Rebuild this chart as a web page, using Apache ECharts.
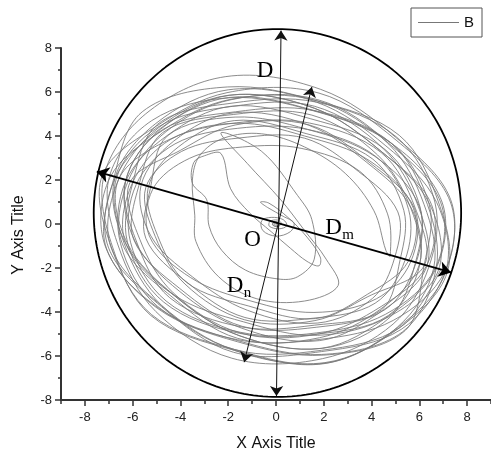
<!DOCTYPE html>
<html><head><meta charset="utf-8">
<script src="https://cdn.jsdelivr.net/npm/echarts@6/dist/echarts.min.js"></script>
<style>html,body{margin:0;padding:0;background:#fff}#c{width:491px;height:457px}</style>
</head><body><div id="c"></div>
<script>
const seriesName = 'B';
const xRange = [-9, 9];
const yRange = [-8, 8];
const xMajorTicks = [-8, -6, -4, -2, 0, 2, 4, 6, 8];
const xMinorTicks = [-9, -7, -5, -3, -1, 1, 3, 5, 7, 9];

// inner part of the trajectory (spiral out of the origin)
const trajCore = [
[0,0],[0.05,0.03],[-0.04,0.05],[-0.06,-0.02],[0.04,-0.06],[0.11,0.02],[0.03,0.09],[-0.12,0.06],[-0.14,-0.05],[0.06,-0.11],[0.16,-0.01],[0.08,0.1],
[0,0],[0.1,0.06],[-0.08,0.1],[-0.12,-0.05],[0.08,-0.12],[0.22,0.03],[0.06,0.18],[-0.25,0.12],[-0.28,-0.1],[0.12,-0.22],[0.45,-0.08],[0.3,0.2],[-0.2,0.3],[-0.6,0.15],[-0.55,-0.3],[0.0,-0.55],[0.6,-0.35],[0.75,0.05],[0.3,0.35],
[-0.35,0.75],[-0.65,1.0],[-0.3,0.95],[0.5,0.3],[1.3,-0.6],[1.85,-1.5],[1.8,-1.9],[1.3,-1.7],[0.6,-1.1],[-0.2,-0.35],
[-1.1,0.5],[-1.9,1.6],[-2.3,3.2],[-3.0,3.1],[-3.44,2.8],[-3.5,1.85],[-2.9,1.1],[-2.8,-0.1],[-2.27,-1.2],[-1.27,-2.1],[0.1,-2.5],[0.9,-2.4],[1.6,-1.6],[1.5,0.2],[0.9,1.3],[-0.6,3.3],[-2.3,4.15],
[-1.2,2.75],[0.2,1.1],[1.2,-0.3],[2.1,-1.6],[2.6,-2.8],[1.2,-3.5],[-0.8,-3.4],[-2.4,-2.4],[-3.35,-0.8],[-3.4,0.4],[-3.5,2.0],[-3.2,3.1],[-2.2,3.9],[-0.6,4.1],[1.2,3.5],[2.9,2.3],[4.1,0.6],[4.6,-1.2]
];

// outer band of the trajectory (loops)
const trajBand = [
[4.78,-1.46],[4.67,0.46],[3.5,2.4],[1.05,3.44],[-1.4,3.5],[-3.61,2.99],[-5.16,1.58],[-5.3,-0.55],[-3.57,-2.44],[-1.05,-3.5],[1.59,-4.02],[4.2,-3.4],
[5.64,-1.72],[5.8,0.7],[3.93,2.78],[1.4,4.5],[-1.71,4.50],[-4.0,3.35],[-6.12,1.87],[-5.7,-0.7],[-4.30,-3.13],[-1.5,-4.95],[1.82,-4.99],[4.4,-3.75],
[6.3,-1.9],[6.51,0.88],[4.4,3.3],[1.61,5.26],[-2.0,5.85],[-4.91,4.38],[-6.6,2.0],[-6.92,-1.02],[-4.8,-3.7],[-1.75,-5.74],[2.05,-6.3],[5.16,-4.72],
[7.17,-2.19],[6.8,1.0],[5.16,4.03],[1.7,5.6],[-2.02,6.23],[-5.6,5.1],[-6.79,2.07],[-7.1,-1.1],[-4.88,-3.85],[-1.6,-5.3],[1.90,-5.93],[5.3,-4.9],
[6.7,-2.05],[6.34,0.88],[4.8,3.7],[1.58,5.16],[-1.7,5.1],[-4.76,4.28],[-6.3,1.95],[-5.85,-0.77],[-4.45,-3.35],[-1.43,-4.68],[1.6,-4.6],[4.41,-3.91],
[5.2,-1.6],[5.35,0.62],[4.05,2.95],[1.26,4.11],[-1.75,4.7],[-4.09,3.50],[-5.35,1.65],[-4.96,-0.52],[-3.75,-2.65],[-1.14,-3.73],[1.65,-4.3],[3.82,-3.20],
[5.54,-1.69],[5.75,0.72],[3.91,2.88],[1.2,4.0],[-1.63,4.58],[-4.4,3.85],[-6.02,1.84],[-6.3,-0.85],[-4.28,-3.22],[-1.35,-4.45],[1.74,-5.06],[4.75,-4.2],
[6.8,-2.1],[6.43,0.91],[4.35,3.35],[1.61,5.26],[-1.95,5.85],[-4.83,4.35],[-6.75,2.05],[-7.02,-1.05],[-4.8,-3.75],[-1.78,-5.83],[1.9,-5.8],[5.24,-4.79],
[7.1,-2.15],[7.31,1.11],[5.0,3.95],[1.87,6.12],[-2.1,6.7],[-5.45,5.01],[-7.2,2.2],[-6.84,-1.05],[-5.25,-4.15],[-1.75,-5.74],[2.0,-6.35],[5.08,-4.69],
[6.60,-2.01],[6.2,0.88],[4.72,3.63],[1.75,5.65],[-1.88,5.65],[-4.6,4.2],[-6.21,1.90],[-6.45,-0.85],[-4.40,-3.27],[-1.6,-5.2],[1.82,-5.17],[4.4,-3.85],
[6.0,-1.85],[5.66,0.73],[3.8,2.8],[1.37,4.49],[-1.8,5.05],[-4.28,3.77],[-5.65,1.75],[-5.24,-0.54],[-3.5,-2.4],[-1.20,-3.92],[1.75,-4.5],[4.04,-3.38],
[4.97,-1.52],[5.1,0.55],[3.45,2.39],[1.2,3.9],[-1.53,3.91],[-3.95,3.3],[-5.45,1.66],[-5.05,-0.58],[-3.81,-2.73],[-1.33,-4.35],[1.63,-4.39],[3.85,-3.3],
[6.2,-1.9],[5.83,0.72],[4.4,3.25],[1.40,4.59],[-1.65,4.6],[-4.43,3.86],[-6.6,2.0],[-6.23,-0.86],[-4.25,-3.25],[-1.55,-5.07],[1.9,-5.65],[4.69,-4.20],
[6.69,-2.04],[6.95,1.0],[4.79,3.70],[1.55,5.15],[-1.91,5.74],[-5.2,4.7],[-6.98,2.13],[-6.6,-1.0],[-5.03,-3.98],[-1.85,-6.1],[1.95,-6.12],[4.9,-4.55],
[6.4,-1.95],[6.65,1.00],[5.05,3.95],[1.69,5.54],[-1.8,5.5],[-4.95,4.54],[-6.0,1.85],[-6.22,-0.82],[-4.7,-3.55],[-1.52,-4.97],[1.75,-5.0],[4.70,-4.16],
[6.02,-1.84],[5.65,0.7],[4.25,3.14],[1.5,4.95],[-1.77,4.98],[-4.75,4.15],[-5.74,1.75],[-5.95,-0.72],[-4.03,-2.93],[-1.42,-4.65],[1.71,-4.69],[4.55,-3.9],
[5.85,-1.8],[6.03,0.77],[4.55,3.4],[1.46,4.78],[-1.9,5.35],[-4.57,4.01],[-6.3,1.92],[-6.51,-0.88],[-4.95,-3.75],[-1.61,-5.26],[1.8,-5.25],[4.91,-4.38],
[7.07,-2.16],[7.3,1.0],[5.03,3.81],[1.8,5.95],[-2.05,5.97],[-5.0,4.45],[-7.27,2.22],[-6.9,-1.03],[-5.22,-4.11],[-1.75,-5.7],[2.04,-6.33],[5.1,-4.7],
[7.1,-2.17],[6.73,0.97],[4.6,3.55],[1.69,5.54],[-2.0,6.1],[-5.03,4.57],[-6.75,2.05],[-6.32,-0.83],[-4.3,-3.22],[-1.55,-5.07],[1.95,-5.65],[4.78,-4.23],
[5.83,-1.78],[6.0,0.8],[4.13,3.08],[1.32,4.3],[-1.71,4.86],[-4.55,4.0],[-5.26,1.61],[-5.45,-0.65],[-3.69,-2.68],[-1.3,-4.25],[1.57,-4.28],[4.15,-3.6],
[5.4,-1.65],[5.55,0.66],[4.2,3.05],[1.31,4.30],[-1.6,4.35],[-4.23,3.64],[-5.85,1.8],[-6.09,-0.83],[-4.6,-3.5],[-1.50,-4.92],[1.7,-4.95],[4.59,-4.10],
[6.66,-2.02],[6.9,0.96],[4.77,3.62],[1.72,5.6],[-1.93,5.66],[-4.75,4.25],[-6.95,2.11],[-7.15,-1.0],[-4.98,-3.82],[-1.62,-5.35],[2.00,-5.96],[5.4,-4.85],
[6.2,-1.88],[6.42,0.86],[4.85,3.65],[1.58,5.16],[-1.98,5.75],[-4.84,4.30],[-6.3,1.92],[-5.90,-0.79],[-4.05,-3.05],[-1.45,-4.73],[1.83,-5.3],[4.45,-3.94],
[6.31,-1.93],[5.95,0.82],[4.49,3.43],[1.62,5.35],[-1.81,5.35],[-4.95,4.4],[-6.69,2.04],[-6.35,-0.9],[-4.79,-3.70],[-1.75,-5.7],[1.91,-5.74],[5.2,-4.7],[6.88,-2.10]
];

// enclosing circle and the three diameters (double arrows)
const circleCenter = [0.06, 0.5];
const circleRadii = [7.69, 8.36];
const arrowD  = [[0.02, -7.82], [0.21, 8.79]];
const arrowDm = [[-7.5, 2.38], [7.33, -2.2]];
const arrowDn = [[-1.33, -6.28], [1.5, 6.23]];

const trajectory = trajCore.concat(trajBand);
const circlePts = [];
for (let i = 0; i <= 240; i++) {
  const t = i / 240 * 2 * Math.PI;
  circlePts.push([circleCenter[0] + circleRadii[0] * Math.cos(t), circleCenter[1] + circleRadii[1] * Math.sin(t)]);
}

const axisColor = '#333';
const trajColor = '#777777';
const sans = '"Liberation Sans", Arial, sans-serif';
const serif = '"Liberation Serif", "Times New Roman", serif';

const chart = echarts.init(document.getElementById('c'), null, {renderer: 'canvas'});
chart.setOption({
  animation: false,
  backgroundColor: '#fff',
  grid: [
    {left: 61, right: -2, top: 48, bottom: 56},
    {left: 61, right: -2, top: 48, bottom: 56}
  ],
  legend: {
    data: [{name: seriesName, icon: 'rect'}], left: 411, top: 8, padding: [7, 8, 7, 7],
    itemWidth: 41, itemHeight: 1, borderColor: '#555', borderWidth: 1,
    textStyle: {fontFamily: sans, fontSize: 15, color: '#111'}
  },
  xAxis: [{
    type: 'value', gridIndex: 0, min: xRange[0], max: xRange[1],
    name: 'X Axis Title', nameLocation: 'middle', nameGap: 36,
    nameTextStyle: {fontFamily: sans, fontSize: 16, color: '#111'},
    axisLine: {show: true, onZero: false, lineStyle: {color: axisColor, width: 2}},
    axisTick: {show: true, length: 6, customValues: xMajorTicks, lineStyle: {color: axisColor, width: 1.5}},
    axisLabel: {margin: 11, customValues: xMajorTicks, fontFamily: sans, fontSize: 13, color: '#222'},
    splitLine: {show: false}
  }, {
    type: 'value', gridIndex: 1, min: xRange[0], max: xRange[1],
    axisLine: {show: false, onZero: false},
    axisTick: {show: true, length: 3, customValues: xMinorTicks, lineStyle: {color: axisColor, width: 1.5}},
    axisLabel: {show: false},
    splitLine: {show: false}
  }],
  yAxis: [{
    type: 'value', gridIndex: 0, min: yRange[0], max: yRange[1], interval: 2,
    name: 'Y Axis Title', nameLocation: 'middle', nameGap: 34,
    nameTextStyle: {fontFamily: sans, fontSize: 16, color: '#111', padding: [0, 22, 0, 0]},
    axisLine: {show: true, onZero: false, lineStyle: {color: axisColor, width: 2}},
    axisTick: {show: true, length: 6, lineStyle: {color: axisColor, width: 1.5}},
    minorTick: {show: true, splitNumber: 2, length: 3, lineStyle: {color: axisColor, width: 1.5}},
    axisLabel: {margin: 9, fontFamily: sans, fontSize: 13, color: '#222'},
    splitLine: {show: false}, minorSplitLine: {show: false}
  }, {
    type: 'value', gridIndex: 1, min: yRange[0], max: yRange[1], show: false
  }],
  series: [{
    name: seriesName, type: 'custom', coordinateSystem: 'cartesian2d', xAxisIndex: 0, yAxisIndex: 0,
    data: trajectory, silent: true, z: 2,
    itemStyle: {color: trajColor},
    renderItem: function (params, api) {
      if (params.dataIndex !== 0) return null;
      const pts = trajectory.map(function (p) { return api.coord(p); });
      return {
        type: 'polyline',
        shape: {points: pts, smooth: 0.35},
        style: {stroke: trajColor, lineWidth: 0.85, fill: null}
      };
    }
  }, {
    name: 'circle', type: 'line', xAxisIndex: 0, yAxisIndex: 0, data: circlePts,
    symbol: 'none', clip: false, silent: true,
    lineStyle: {color: '#000', width: 1.8}, z: 3
  }, {
    name: 'thin', type: 'lines', coordinateSystem: 'cartesian2d', xAxisIndex: 0, yAxisIndex: 0,
    clip: false, silent: true, symbol: ['arrow', 'arrow'], symbolSize: 10,
    lineStyle: {color: '#111', width: 1, opacity: 1},
    data: [{coords: arrowD}, {coords: arrowDn}], z: 4
  }, {
    name: 'thick', type: 'lines', coordinateSystem: 'cartesian2d', xAxisIndex: 0, yAxisIndex: 0,
    clip: false, silent: true, symbol: ['arrow', 'arrow'], symbolSize: 12,
    lineStyle: {color: '#000', width: 2, opacity: 1},
    data: [{coords: arrowDm}], z: 4
  }],
  graphic: [
    {type: 'text', x: 265, y: 70.5, z: 10, style: {text: 'D', font: '23px ' + serif, fill: '#000', align: 'center', verticalAlign: 'middle'}},
    {type: 'text', x: 252.5, y: 239.5, z: 10, style: {text: 'O', font: '23px ' + serif, fill: '#000', align: 'center', verticalAlign: 'middle'}},
    {type: 'text', x: 333.5, y: 228, z: 10, style: {text: 'D', font: '23px ' + serif, fill: '#000', align: 'center', verticalAlign: 'middle'}},
    {type: 'text', x: 348, y: 235, z: 10, style: {text: 'm', font: '15px ' + serif, fill: '#000', align: 'center', verticalAlign: 'middle'}},
    {type: 'text', x: 235, y: 286, z: 10, style: {text: 'D', font: '23px ' + serif, fill: '#000', align: 'center', verticalAlign: 'middle'}},
    {type: 'text', x: 247.5, y: 293, z: 10, style: {text: 'n', font: '15px ' + serif, fill: '#000', align: 'center', verticalAlign: 'middle'}}
  ]
});
</script>
</body></html>
